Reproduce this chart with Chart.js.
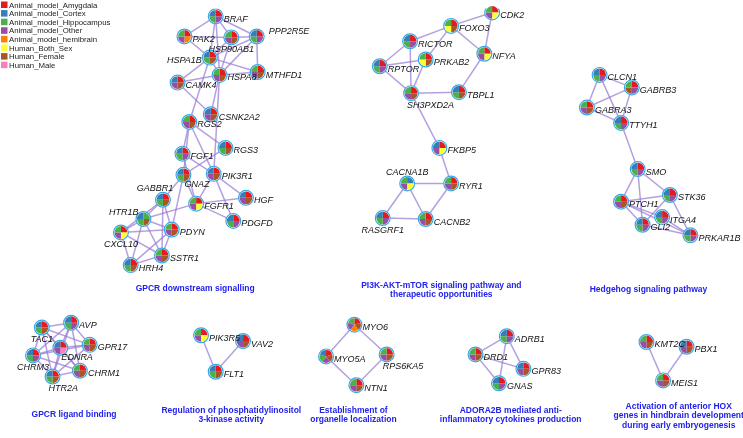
<!DOCTYPE html>
<html>
<head>
<meta charset="utf-8">
<script src="https://cdn.jsdelivr.net/npm/chart.js@4"></script>
<style>
  body { margin: 0; background: #fff; }
  #wrap { width: 743px; height: 438px; position: relative; }
</style>
</head>
<body>
<div id="wrap"><canvas id="net"></canvas></div>
<script>
// legend categories (tissue sources)
const categories = ['Animal_model_Amygdala', 'Animal_model_Cortex', 'Animal_model_Hippocampus',
  'Animal_model_Other', 'Animal_model_hemibrain', 'Human_Both_Sex', 'Human_Female', 'Human_Male'];
const categoryColors = ['#e41a1c', '#377eb8', '#4daf4a', '#984ea3', '#ff7f00', '#ffff33', '#a65628', '#f781bf'];

// genes and their layout position on the picture
const genes = ['BRAF', 'PAK2', 'HSP90AB1', 'PPP2R5E', 'HSPA1B', 'HSPA8', 'MTHFD1', 'CAMK4', 'CSNK2A2', 'RGS2',
  'RGS3', 'FGF1', 'GNAZ', 'PIK3R1', 'GABBR1', 'FGFR1', 'HGF', 'HTR1B', 'PDGFD', 'PDYN', 'CXCL10', 'SSTR1', 'HRH4',
  'CDK2', 'FOXO3', 'RICTOR', 'PRKAB2', 'NFYA', 'RPTOR', 'SH3PXD2A', 'TBPL1', 'FKBP5', 'CACNA1B', 'RYR1', 'RASGRF1', 'CACNB2',
  'CLCN1', 'GABRB3', 'GABRA3', 'TTYH1', 'SMO', 'STK36', 'PTCH1', 'ITGA4', 'GLI2', 'PRKAR1B',
  'TAC1', 'AVP', 'EDNRA', 'GPR17', 'CHRM3', 'CHRM1', 'HTR2A',
  'PIK3R5', 'VAV2', 'FLT1',
  'MYO6', 'MYO5A', 'RPS6KA5', 'NTN1',
  'ADRB1', 'DRD1', 'GPR83', 'GNAS',
  'KMT2C', 'PBX1', 'MEIS1'];
const geneX = [212, 180, 228, 254, 206, 216, 255, 173, 207, 185,
  222, 178, 179, 210, 158, 192, 243, 138, 230, 167, 115, 157, 125,
  495, 453, 411, 427, 487, 380, 412, 461, 441, 408, 453, 383, 427,
  605, 638, 592, 627, 644, 677, 627, 669, 649, 698,
  34, 64, 53, 83, 25, 73, 45,
  197, 240, 212,
  354, 325, 387, 356,
  510, 478, 527, 502,
  653, 694, 670];
const geneY = [8, 29, 30, 29, 51, 69, 66, 77, 110, 118,
  145, 151, 173, 172, 199, 203, 197, 219, 221, 230, 233, 257, 267,
  4, 18, 34, 53, 47, 60, 88, 87, 145, 182, 182, 218, 219,
  69, 82, 103, 119, 167, 194, 201, 217, 225, 236,
  332, 327, 353, 350, 361, 377, 383,
  340, 346, 378,
  329, 362, 360, 392,
  341, 360, 375, 390,
  347, 352, 387];
// where the name sits relative to the node
const labelSide = ['r', 'r', 'b', 'tr', 'l', 'r', 'r', 'r', 'r', 'r',
  'r', 'r', 'br', 'r', 'tl', 'r', 'r', 'lu', 'r', 'r', 'b', 'r', 'r',
  'r', 'r', 'r', 'r', 'r', 'r', 'bs', 'r', 'r', 't', 'r', 'b', 'r',
  'r', 'r', 'r', 'r', 'r', 'r', 'r', 'r', 'r', 'r',
  'b', 'r', 'br', 'r', 'b', 'r', 'bs',
  'r', 'r', 'r',
  'r', 'r', 'bs', 'r',
  'r', 'r', 'r', 'r',
  'r', 'r', 'r'];
// pie slices per gene, clockwise from 12 o'clock (indices into categories)
const geneSlices = [
  [0, 3, 2, 1], [0, 4, 3, 2], [0, 6, 3, 2], [0, 3, 2, 1], [0, 6, 2, 1], [0, 6, 3, 2], [0, 6, 3, 2], [0, 6, 3, 1], [0, 6, 3, 1], [0, 6, 3, 2],
  [0, 6, 2, 1], [0, 3, 2, 1], [0, 6, 2, 1], [0, 6, 3, 1], [0, 6, 2, 1], [0, 5, 3, 2], [0, 6, 3, 1], [2, 6, 2, 1], [0, 3, 2, 1], [0, 6, 3, 2], [0, 5, 3, 2], [0, 6, 3, 2], [0, 6, 2, 1],
  [0, 5, 3, 2], [0, 6, 5, 2], [0, 3, 2, 1], [0, 6, 5, 2], [0, 5, 3, 2], [0, 3, 2, 1], [0, 6, 3, 2], [0, 6, 2, 1], [0, 5, 3, 1], [1, 5, 3, 2], [0, 6, 3, 2], [0, 3, 2, 1], [0, 6, 3, 2],
  [0, 3, 2, 1], [0, 3, 6, 2], [0, 6, 3, 2], [0, 3, 2, 1], [0, 3, 2, 1], [0, 3, 2, 1], [0, 6, 3, 2], [0, 3, 2, 1], [0, 3, 2, 1], [0, 3, 2, 1],
  [0, 6, 2, 1], [0, 3, 2, 1], [0, 7, 3, 1], [0, 6, 3, 2], [0, 3, 2, 1], [0, 6, 3, 2], [0, 6, 2, 1],
  [0, 5, 3, 2], [0, 6, 3, 1], [0, 6, 2, 1],
  [0, 6, 4, 3, 2], [0, 6, 3, 2, 1], [0, 6, 3, 2], [0, 6, 3, 2],
  [0, 3, 2, 1], [0, 6, 3, 2], [0, 6, 3, 1], [0, 3, 2, 1],
  [0, 6, 3, 2], [0, 6, 3, 1], [0, 6, 3, 2]];

// interactions between genes
const edges = [
  ['BRAF', 'PAK2'], ['BRAF', 'HSP90AB1'], ['BRAF', 'PPP2R5E'], ['BRAF', 'HSPA1B'], ['BRAF', 'HSPA8'],
  ['PAK2', 'HSP90AB1'], ['PAK2', 'HSPA1B'], ['HSP90AB1', 'PPP2R5E'], ['HSP90AB1', 'HSPA1B'], ['HSP90AB1', 'HSPA8'],
  ['PPP2R5E', 'HSPA1B'], ['PPP2R5E', 'MTHFD1'], ['PPP2R5E', 'HSPA8'], ['HSPA1B', 'MTHFD1'], ['HSPA1B', 'HSPA8'],
  ['HSPA8', 'MTHFD1'], ['HSPA8', 'CAMK4'], ['HSPA1B', 'CAMK4'], ['CAMK4', 'CSNK2A2'], ['HSPA8', 'CSNK2A2'],
  ['HSPA1B', 'RGS2'], ['HSPA8', 'PIK3R1'], ['RGS2', 'RGS3'], ['RGS2', 'FGF1'], ['RGS2', 'GNAZ'], ['RGS2', 'PIK3R1'],
  ['RGS3', 'GNAZ'], ['FGF1', 'PIK3R1'], ['FGF1', 'FGFR1'], ['GNAZ', 'GABBR1'], ['GNAZ', 'FGFR1'], ['GNAZ', 'PDYN'],
  ['PIK3R1', 'FGFR1'], ['PIK3R1', 'HGF'], ['PIK3R1', 'PDGFD'], ['FGFR1', 'HGF'], ['FGFR1', 'PDGFD'], ['FGFR1', 'HTR1B'],
  ['GABBR1', 'HTR1B'], ['GABBR1', 'CXCL10'], ['GABBR1', 'PDYN'], ['GABBR1', 'SSTR1'], ['HTR1B', 'CXCL10'],
  ['HTR1B', 'PDYN'], ['HTR1B', 'SSTR1'], ['HTR1B', 'HRH4'], ['CXCL10', 'PDYN'], ['CXCL10', 'SSTR1'],
  ['CXCL10', 'HRH4'], ['PDYN', 'HRH4'], ['PDYN', 'SSTR1'], ['SSTR1', 'HRH4'],
  ['CDK2', 'FOXO3'], ['CDK2', 'NFYA'], ['FOXO3', 'RICTOR'], ['FOXO3', 'PRKAB2'], ['FOXO3', 'NFYA'],
  ['RICTOR', 'RPTOR'], ['RICTOR', 'SH3PXD2A'], ['RPTOR', 'PRKAB2'], ['RPTOR', 'SH3PXD2A'], ['PRKAB2', 'SH3PXD2A'],
  ['NFYA', 'TBPL1'], ['SH3PXD2A', 'TBPL1'], ['SH3PXD2A', 'FKBP5'], ['FKBP5', 'RYR1'], ['CACNA1B', 'RYR1'],
  ['CACNA1B', 'CACNB2'], ['CACNA1B', 'RASGRF1'], ['RASGRF1', 'CACNB2'], ['RYR1', 'CACNB2'],
  ['CLCN1', 'GABRB3'], ['CLCN1', 'GABRA3'], ['CLCN1', 'TTYH1'], ['GABRB3', 'GABRA3'], ['GABRB3', 'TTYH1'],
  ['GABRA3', 'TTYH1'], ['TTYH1', 'SMO'], ['SMO', 'STK36'], ['SMO', 'PTCH1'], ['SMO', 'GLI2'], ['PTCH1', 'STK36'],
  ['PTCH1', 'GLI2'], ['PTCH1', 'ITGA4'], ['PTCH1', 'PRKAR1B'], ['STK36', 'GLI2'], ['STK36', 'PRKAR1B'],
  ['ITGA4', 'PRKAR1B'], ['GLI2', 'PRKAR1B'],
  ['TAC1', 'AVP'], ['TAC1', 'EDNRA'], ['TAC1', 'CHRM3'], ['TAC1', 'GPR17'], ['TAC1', 'CHRM1'], ['TAC1', 'HTR2A'],
  ['AVP', 'EDNRA'], ['AVP', 'GPR17'], ['AVP', 'CHRM3'], ['AVP', 'CHRM1'], ['AVP', 'HTR2A'], ['EDNRA', 'GPR17'],
  ['EDNRA', 'CHRM3'], ['EDNRA', 'CHRM1'], ['EDNRA', 'HTR2A'], ['GPR17', 'CHRM3'], ['GPR17', 'HTR2A'],
  ['CHRM3', 'HTR2A'], ['CHRM3', 'CHRM1'], ['CHRM1', 'HTR2A'],
  ['PIK3R5', 'FLT1'], ['VAV2', 'FLT1'],
  ['MYO6', 'MYO5A'], ['MYO6', 'RPS6KA5'], ['MYO5A', 'NTN1'], ['RPS6KA5', 'NTN1'],
  ['ADRB1', 'DRD1'], ['ADRB1', 'GPR83'], ['ADRB1', 'GNAS'], ['DRD1', 'GPR83'], ['DRD1', 'GNAS'],
  ['KMT2C', 'MEIS1'], ['PBX1', 'MEIS1']];

// cluster titles
const clusterTitles = [
  ['GPCR downstream signalling'],
  ['PI3K-AKT-mTOR signaling pathway and', 'therapeutic opportunities'],
  ['Hedgehog signaling pathway'],
  ['GPCR ligand binding'],
  ['Regulation of phosphatidylinositol', '3-kinase activity'],
  ['Establishment of', 'organelle localization'],
  ['ADORA2B mediated anti-', 'inflammatory cytokines production'],
  ['Activation of anterior HOX', 'genes in hindbrain development', 'during early embryogenesis']];
const titleX = [191, 443, 655, 67, 228, 353, 514, 686];
const titleY = [292, 288, 293, 423, 418, 418, 418, 414];

const FONT = '"Liberation Sans", Arial, Helvetica, sans-serif';

const networkPlugin = {
  id: 'network',
  beforeDatasetsDraw(chart) {
    const ctx = chart.ctx;
    const xs = chart.scales.x, ys = chart.scales.y;
    ctx.save();
    ctx.strokeStyle = 'rgba(150, 120, 210, 0.7)';
    ctx.lineWidth = 1.5;
    edges.forEach(([a, b]) => {
      const i = genes.indexOf(a), j = genes.indexOf(b);
      ctx.beginPath();
      ctx.moveTo(xs.getPixelForValue(geneX[i]), ys.getPixelForValue(geneY[i]));
      ctx.lineTo(xs.getPixelForValue(geneX[j]), ys.getPixelForValue(geneY[j]));
      ctx.stroke();
    });
    ctx.restore();
  },
  afterDatasetsDraw(chart) {
    const ctx = chart.ctx;
    const xs = chart.scales.x, ys = chart.scales.y;
    ctx.save();

    // pies inside the node circles
    genes.forEach((g, i) => {
      const cx = xs.getPixelForValue(geneX[i]);
      const cy = ys.getPixelForValue(geneY[i]);
      const slices = geneSlices[i];
      const step = Math.PI * 2 / slices.length;
      slices.forEach((c, k) => {
        const a0 = -Math.PI / 2 + k * step;
        ctx.beginPath();
        ctx.moveTo(cx, cy);
        ctx.arc(cx, cy, 6.4, a0, a0 + step);
        ctx.closePath();
        ctx.fillStyle = categoryColors[c];
        ctx.fill();
      });
    });

    // gene names
    ctx.fillStyle = '#111';
    ctx.font = 'italic 9px ' + FONT;
    ctx.textBaseline = 'middle';
    genes.forEach((g, i) => {
      const cx = xs.getPixelForValue(geneX[i]);
      const cy = ys.getPixelForValue(geneY[i]);
      let tx = cx + 8, ty = cy + 3, align = 'left';
      switch (labelSide[i]) {
        case 'l': tx = cx - 8; align = 'right'; break;
        case 'b': tx = cx; ty = cy + 12; align = 'center'; break;
        case 'bs': tx = cx - 4; ty = cy + 12; align = 'left'; break;
        case 't': tx = cx; ty = cy - 11; align = 'center'; break;
        case 'br': tx = cx + 1; ty = cy + 10; break;
        case 'tr': tx = cx + 12; ty = cy - 5; break;
        case 'tl': tx = cx - 8; ty = cy - 11; align = 'center'; break;
        case 'lu': tx = cx - 5; ty = cy - 7; align = 'right'; break;
      }
      ctx.textAlign = align;
      ctx.fillText(g, tx, ty);
    });

    // cluster titles
    ctx.fillStyle = '#2222ee';
    ctx.font = 'bold 8.5px ' + FONT;
    ctx.textAlign = 'center';
    clusterTitles.forEach((lines, i) => {
      lines.forEach((t, k) => {
        ctx.fillText(t, xs.getPixelForValue(titleX[i]), ys.getPixelForValue(titleY[i]) + k * 9.5);
      });
    });

    // category legend
    ctx.font = '7.8px ' + FONT;
    ctx.textAlign = 'left';
    categories.forEach((c, i) => {
      const y = 5 + i * 8.6;
      ctx.fillStyle = categoryColors[i];
      ctx.fillRect(1, y - 3.5, 6.5, 6.5);
      ctx.fillStyle = '#222';
      ctx.fillText(c, 9, y + 0.5);
    });
    ctx.restore();
  }
};

new Chart(document.getElementById('net'), {
  type: 'scatter',
  data: {
    datasets: [{
      label: 'genes',
      data: genes.map((g, i) => ({ x: geneX[i], y: geneY[i] })),
      pointRadius: 7.4,
      pointBackgroundColor: '#ffffff',
      pointBorderColor: '#3aa8e4',
      pointBorderWidth: 1.2,
    }],
  },
  options: {
    responsive: true,
    maintainAspectRatio: false,
    animation: false,
    layout: { padding: 0 },
    scales: {
      x: { type: 'linear', min: 0, max: 743, display: false },
      y: { type: 'linear', min: 0, max: 438, reverse: true, display: false },
    },
    plugins: {
      legend: { display: false },
      tooltip: { enabled: false },
    },
  },
  plugins: [networkPlugin],
});
</script>
</body>
</html>
